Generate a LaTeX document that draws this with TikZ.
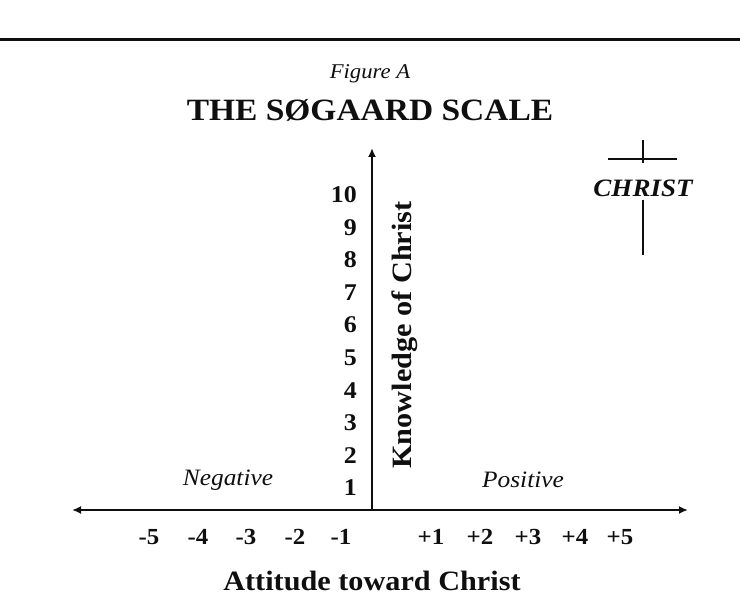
\documentclass[tikz,border=0pt]{standalone}
\usepackage{fontspec}
\setmainfont{Liberation Serif}[FakeStretch=1.08]
\usepackage{tikz}
\usetikzlibrary{arrows.meta, positioning}
\definecolor{ink}{RGB}{15,15,15}
\tikzset{
  scaleaxis/.style={
    draw=ink,
    line width=2.6pt
  },
  tip/.style={-{Latex[length=9pt,width=8pt]}},
  tips/.style={{Latex[length=9pt,width=8pt]}-{Latex[length=9pt,width=8pt]}},
  rule/.style={draw=ink, line width=3pt},
  crossbar/.style={draw=ink, line width=2.8pt},
  caption/.style={text=ink, inner sep=0pt, font=\fontsize{21}{24}\selectfont\itshape},
  heading/.style={text=ink, inner sep=0pt, font=\fontsize{31}{33}\selectfont\bfseries},
  axislabel/.style={text=ink, inner sep=0pt, font=\fontsize{28}{30}\selectfont\bfseries},
  sidelabel/.style={text=ink, inner sep=0pt, font=\fontsize{23.5}{26}\selectfont\itshape},
  levelnum/.style={text=ink, inner sep=0pt, anchor=east, font=\fontsize{24}{26}\selectfont\bfseries},
  ticknum/.style={text=ink, inner sep=0pt, font=\fontsize{23}{26}\selectfont\bfseries},
  namelabel/.style={text=ink, inner sep=0pt, font=\fontsize{25}{27}\selectfont\bfseries\itshape}
}

\begin{document}
\begin{tikzpicture}[x=1pt, y=-1pt]
  \useasboundingbox (0,0) rectangle (740,604);

  % rule and headings
  \coordinate (ruleL) at (0,40);
  \coordinate (ruleR) at (740,40);
  \draw[rule] (ruleL) -- (ruleR);
  \node[caption] (fig) at (370,74) {Figure A};
  \node[heading] (title) at (370,110) {THE SØGAARD SCALE};

  % axes
  \coordinate (origin) at (372,510);
  \coordinate (top) at (372,148);
  \coordinate (left) at (72,510);
  \coordinate (right) at (688,510);
  \draw[scaleaxis, tips] (left) -- (right);
  \draw[scaleaxis, tip] (origin) -- (top);

  % knowledge levels
  \node[levelnum] (k1) at (357,488) {1};
  \node[levelnum] (k2) at (357,455.4) {2};
  \node[levelnum] (k3) at (357,422.8) {3};
  \node[levelnum] (k4) at (357,390.2) {4};
  \node[levelnum] (k5) at (357,357.6) {5};
  \node[levelnum] (k6) at (357,325) {6};
  \node[levelnum] (k7) at (357,292.4) {7};
  \node[levelnum] (k8) at (357,259.8) {8};
  \node[levelnum] (k9) at (357,227.2) {9};
  \node[levelnum] (k10) at (357,194.6) {10};
  \node[axislabel, rotate=90] (knowledge) at (405,335) {Knowledge of Christ};

  % attitude ticks
  \node[ticknum] (m5) at (149,537) {-5};
  \node[ticknum] (m4) at (198,537) {-4};
  \node[ticknum] (m3) at (246,537) {-3};
  \node[ticknum] (m2) at (295,537) {-2};
  \node[ticknum] (m1) at (341,537) {-1};
  \node[ticknum] (p1) at (431,537) {+1};
  \node[ticknum] (p2) at (480,537) {+2};
  \node[ticknum] (p3) at (528,537) {+3};
  \node[ticknum] (p4) at (575,537) {+4};
  \node[ticknum] (p5) at (620,537) {+5};
  \node[axislabel] (attitude) at (372,581) {Attitude toward Christ};

  \node[sidelabel] (negative) at (228,480) {Negative};
  \node[sidelabel] (positive) at (523,480) {Positive};

  % the cross
  \node[namelabel] (christ) at (643,188) {CHRIST};
  \coordinate (crossTop) at (643,140);
  \coordinate (crossMid) at (643,163);
  \coordinate (barL) at (608,159);
  \coordinate (barR) at (677,159);
  \coordinate (crossFoot) at (643,255);
  \draw[crossbar] (crossTop) -- (crossMid);
  \draw[crossbar] (barL) -- (barR);
  \draw[crossbar] ([yshift=-3pt]christ.south) -- (crossFoot);
\end{tikzpicture}
\end{document}
